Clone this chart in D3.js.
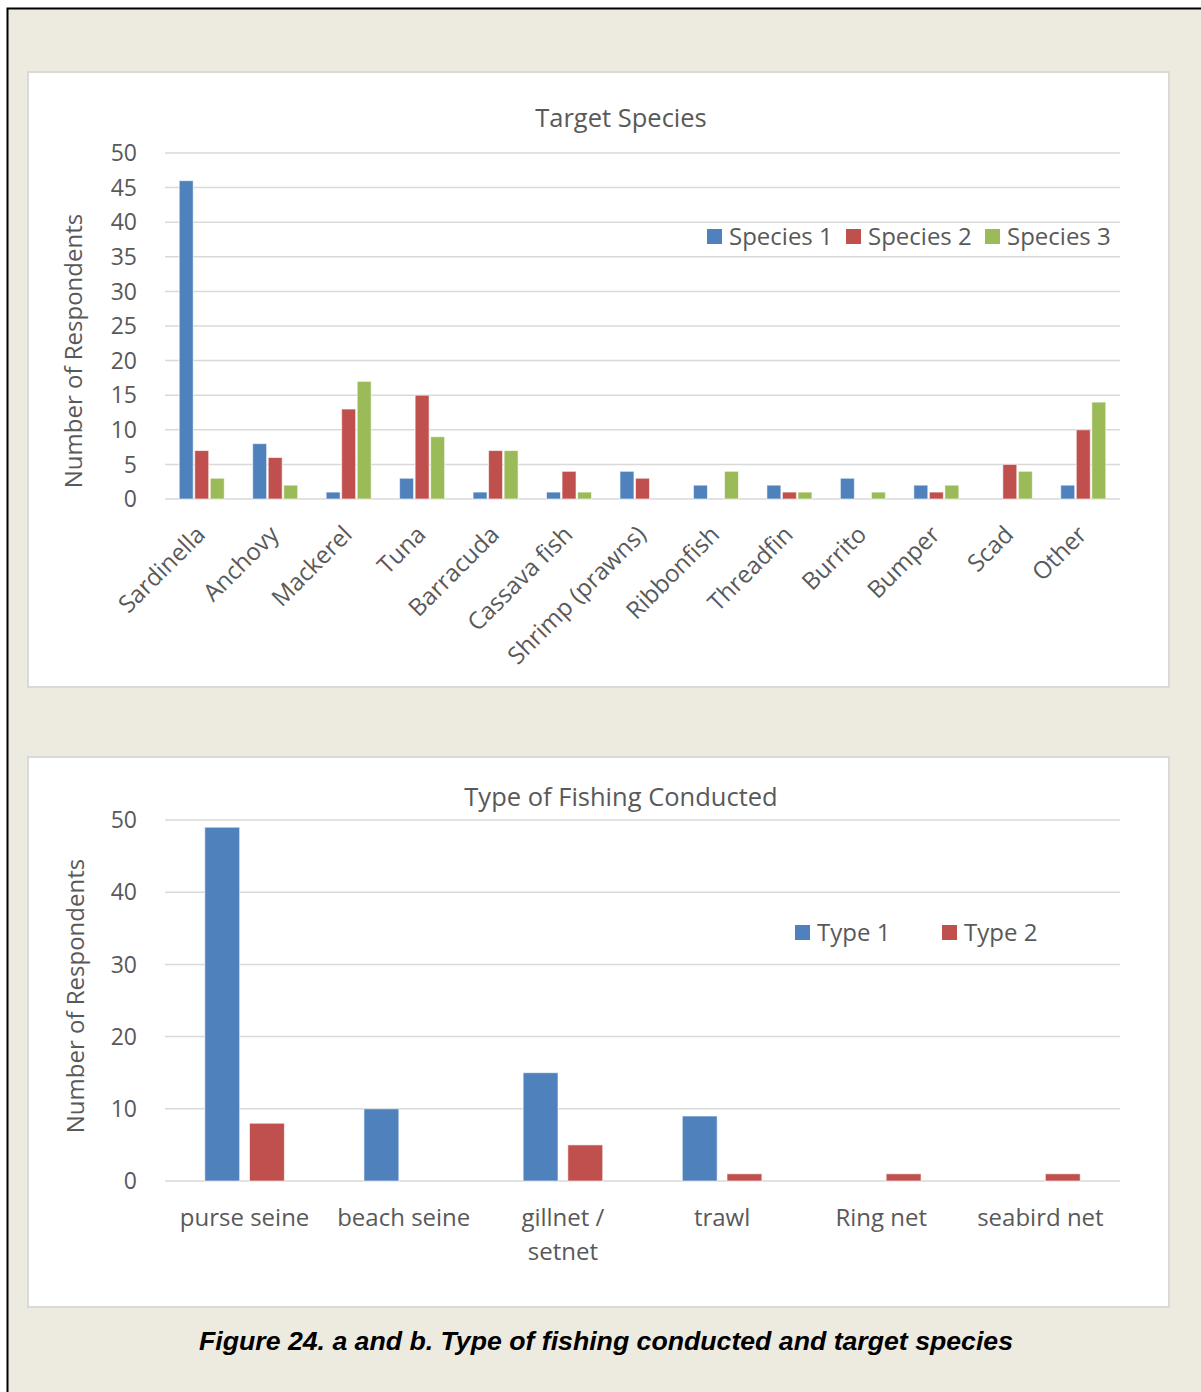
<!DOCTYPE html>
<html>
<head>
<meta charset="utf-8">
<script src="https://cdn.jsdelivr.net/npm/d3@7"></script>
<style>
  body { margin: 0; background: #fff; }
  svg text { font-family: "Open Sans", "Noto Sans", sans-serif; fill: #595959; }
</style>
</head>
<body>
<div id="fig"></div>
<script>

// --> DATA

var species = ["Sardinella", "Anchovy", "Mackerel", "Tuna", "Barracuda", "Cassava fish",
    "Shrimp (prawns)", "Ribbonfish", "Threadfin", "Burrito", "Bumper", "Scad", "Other"];
var speciesSeries = ["Species 1", "Species 2", "Species 3"];
var species1 = [46, 8, 1, 3, 1, 1, 4, 2, 2, 3, 2, 0, 2];
var species2 = [7, 6, 13, 15, 7, 4, 3, 0, 1, 0, 1, 5, 10];
var species3 = [3, 2, 17, 9, 7, 1, 0, 4, 1, 1, 2, 4, 14];
var speciesTicks = [0, 5, 10, 15, 20, 25, 30, 35, 40, 45, 50];

var fishingTypes = ["purse seine", "beach seine", "gillnet / setnet", "trawl", "Ring net", "seabird net"];
var typeSeries = ["Type 1", "Type 2"];
var type1 = [49, 10, 15, 9, 0, 0];
var type2 = [8, 0, 5, 1, 1, 1];
var typeTicks = [0, 10, 20, 30, 40, 50];

var colors = ["#4F81BD", "#C0504D", "#9BBB59"];

// --> CREATE SVG DRAWING AREA

var width = 1201,
    height = 1392;

var svg = d3.select("#fig").append("svg")
    .attr("width", width)
    .attr("height", height);

svg.append("rect")
    .attr("x", 7.5).attr("y", 8.5)
    .attr("width", width + 10).attr("height", height + 10)
    .style("fill", "#EDEAE0")
    .style("stroke", "#000")
    .style("stroke-width", 2);

// panels
svg.append("rect").attr("x", 28).attr("y", 72).attr("width", 1141).attr("height", 615)
    .style("fill", "#fff").style("stroke", "#D9D9D9").style("stroke-width", 2);
svg.append("rect").attr("x", 28).attr("y", 757).attr("width", 1141).attr("height", 550)
    .style("fill", "#fff").style("stroke", "#D9D9D9").style("stroke-width", 2);

drawChart({
    title: "Target Species",
    titleY: 127,
    categories: species,
    seriesNames: speciesSeries,
    values: [species1, species2, species3],
    ticks: speciesTicks,
    yTop: 153, yBottom: 499,
    pad: 0.387, innerPad: 0.1,
    axisTitleX: 82, axisTitleY: 351,
    legend: [{ x: 707 }, { x: 846 }, { x: 985 }],
    legendY: 245,
    rotate: true
});

drawChart({
    title: "Type of Fishing Conducted",
    titleY: 806,
    categories: fishingTypes,
    seriesNames: typeSeries,
    values: [type1, type2],
    ticks: typeTicks,
    yTop: 820, yBottom: 1181,
    pad: 0.5, innerPad: 0.22,
    axisTitleX: 84, axisTitleY: 996,
    legend: [{ x: 795 }, { x: 942 }],
    legendY: 941,
    rotate: false
});

function drawChart(c) {
    var left = 165, right = 1120;

    var g = svg.append("g");

    var y = d3.scaleLinear()
        .domain([0, 50])
        .range([c.yBottom, c.yTop]);

    var x0 = d3.scaleBand()
        .domain(c.categories)
        .range([left, right])
        .paddingInner(c.pad)
        .paddingOuter(c.pad / 2);

    var x1 = d3.scaleBand()
        .domain(c.seriesNames)
        .range([0, x0.bandwidth()])
        .paddingInner(c.innerPad);

    // gridlines
    g.selectAll(".grid")
        .data(c.ticks)
        .enter().append("line")
        .attr("x1", left).attr("x2", right)
        .attr("y1", function (d) { return y(d); })
        .attr("y2", function (d) { return y(d); })
        .style("stroke", "#D9D9D9")
        .style("stroke-width", 1.5);

    // y tick labels
    g.selectAll(".tick")
        .data(c.ticks)
        .enter().append("text")
        .attr("x", 137)
        .attr("y", function (d) { return y(d); })
        .attr("dy", "0.36em")
        .attr("text-anchor", "end")
        .style("font-size", "23px")
        .text(function (d) { return d; });

    // bars
    c.seriesNames.forEach(function (s, i) {
        g.selectAll(".bar" + i)
            .data(c.values[i])
            .enter().append("rect")
            .attr("x", function (d, j) { return x0(c.categories[j]) + x1(s); })
            .attr("y", function (d) { return y(d); })
            .attr("width", x1.bandwidth())
            .attr("height", function (d) { return y(0) - y(d); })
            .style("fill", colors[i])
            .style("stroke", "#fff")
            .style("stroke-opacity", 0.6)
            .style("stroke-width", 1)
            .style("display", function (d) { return d > 0 ? null : "none"; });
    });

    // x labels
    if (c.rotate) {
        g.selectAll(".xlab")
            .data(c.categories)
            .enter().append("text")
            .attr("transform", function (d) {
                return "translate(" + (x0(d) + x0.bandwidth() / 2 + 5) + "," + 536 + ") rotate(-45)";
            })
            .attr("text-anchor", "end")
            .style("font-size", "24px")
            .text(function (d) { return d; });
    } else {
        g.selectAll(".xlab")
            .data(c.categories)
            .enter().append("text")
            .attr("x", function (d) { return x0(d) + x0.bandwidth() / 2; })
            .attr("y", c.yBottom + 45)
            .attr("text-anchor", "middle")
            .style("font-size", "24px")
            .each(function (d) {
                var parts = d === "gillnet / setnet" ? ["gillnet /", "setnet"] : [d];
                var t = d3.select(this);
                parts.forEach(function (p, k) {
                    t.append("tspan")
                        .attr("x", x0(d) + x0.bandwidth() / 2)
                        .attr("dy", k === 0 ? 0 : 34)
                        .text(p);
                });
            });
    }

    // title
    g.append("text")
        .attr("x", 621)
        .attr("y", c.titleY)
        .attr("text-anchor", "middle")
        .style("font-size", "25.5px")
        .text(c.title);

    // axis title
    g.append("text")
        .attr("transform", "translate(" + c.axisTitleX + "," + c.axisTitleY + ") rotate(-90)")
        .attr("text-anchor", "middle")
        .style("font-size", "24px")
        .text("Number of Respondents");

    // legend
    c.legend.forEach(function (l, i) {
        g.append("rect")
            .attr("x", l.x).attr("y", c.legendY - 16)
            .attr("width", 15).attr("height", 15)
            .style("fill", colors[i]);
        g.append("text")
            .attr("x", l.x + 22).attr("y", c.legendY)
            .style("font-size", "24px")
            .text(c.seriesNames[i]);
    });
}

// caption
svg.append("text")
    .attr("x", 606)
    .attr("y", 1350)
    .attr("text-anchor", "middle")
    .style("font-family", "'Liberation Sans', Arial, sans-serif")
    .style("font-size", "25px")
    .style("font-weight", "bold")
    .style("font-style", "italic")
    .style("fill", "#000")
    .attr("textLength", 814)
    .attr("lengthAdjust", "spacingAndGlyphs")
    .text("Figure 24. a and b. Type of fishing conducted and target species");

</script>
</body>
</html>
